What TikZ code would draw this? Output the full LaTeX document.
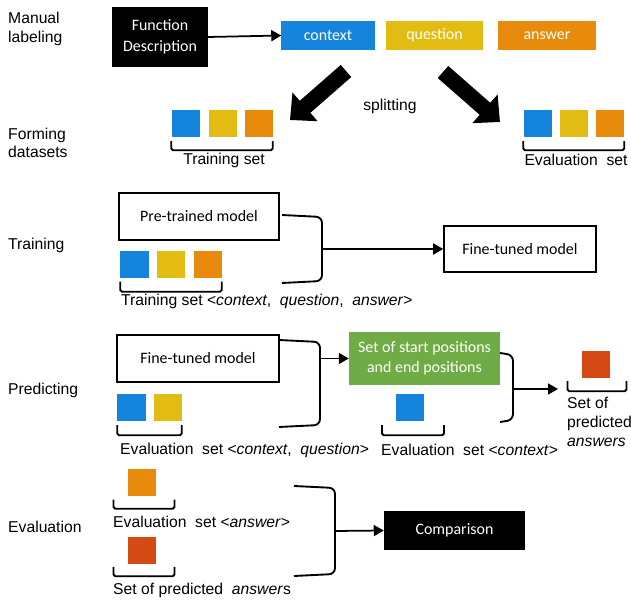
\documentclass[tikz,border=0pt]{standalone}
\usepackage{fontspec}
\setmainfont{Liberation Sans}
\newfontfamily\calfont{Carlito}
\usepackage{xcolor}
\usetikzlibrary{arrows.meta,calc}
\definecolor{QABlue}{HTML}{1584DC}
\definecolor{QAYellow}{HTML}{E2BC12}
\definecolor{QAOrange}{HTML}{E88B0C}
\definecolor{QARed}{HTML}{D54A14}
\definecolor{QAGreen}{HTML}{6FAC46}

\begin{document}
\begin{tikzpicture}[x=0.03cm,y=-0.03cm,
  rowlabel/.style={anchor=west,align=left,inner sep=0pt,font=\fontsize{13.4}{16}\selectfont},
  settext/.style={anchor=west,inner sep=0pt,font=\fontsize{13.4}{16.2}\selectfont},
  calbox/.style={align=center,inner sep=0pt,font=\calfont\fontsize{13.6}{17.5}\selectfont},
  darkbox/.style={calbox,fill=black,text=white},
  fieldbox/.style={calbox,text=white,minimum height=0.87cm},
  modelbox/.style={calbox,draw=black,line width=1.4pt},
  sq/.style={minimum width=0.84cm,minimum height=0.81cm,inner sep=0pt},
  brk/.style={line width=1.6pt,rounded corners=1.5pt},
  brace/.style={line width=1.6pt,rounded corners=5pt},
  arr/.style={line width=1.5pt,-{Triangle[length=0.3cm,width=0.33cm]}},
  bigarr/.style={line width=0.48cm,-{Triangle[length=0.6cm,width=1.11cm]}}]
\path[use as bounding box] (0,0) rectangle (631,601);

\node[rowlabel] (lblManual) at (8,29) {Manual\\labeling};
\node[rowlabel] (lblForming) at (8,143) {Forming\\datasets};
\node[rowlabel] (lblTraining) at (8,245.5) {Training};
\node[rowlabel] (lblPredicting) at (8,390) {Predicting};
\node[rowlabel] (lblEvaluation) at (8,526.5) {Evaluation};

\node[darkbox,minimum width=2.88cm,minimum height=1.80cm] (fd) at (160,37) {Function\\Description};
\node[fieldbox,fill=QABlue,minimum width=2.79cm] (ctx) at (328,35.5) {context};
\node[fieldbox,fill=QAYellow,minimum width=2.91cm] (qst) at (434.5,35.5) {question};
\node[fieldbox,fill=QAOrange,minimum width=2.94cm] (ans) at (547,35.5) {answer};
\draw[arr] (fd.east) -- (ctx.west);

\coordinate (splitL0) at (346,71);
\coordinate (splitL1) at (290,120);
\coordinate (splitR0) at (443,72);
\coordinate (splitR1) at (500,122);
\draw[bigarr] (splitL0) -- (splitL1);
\draw[bigarr] (splitR0) -- (splitR1);
\node[settext,anchor=center] (split) at (390,106) {splitting};

\node[sq,fill=QABlue] (tq1) at (185.5,123.5) {};
\node[sq,fill=QAYellow] (tq2) at (222.5,123.5) {};
\node[sq,fill=QAOrange] (tq3) at (258.5,123.5) {};
\draw[brk] ($(tq1.south west)+(0,4)$) -- ++(0,9) -| ($(tq3.south east)+(0,4)$);
\node[settext,anchor=center] (trainset) at (224,160) {Training set};

\node[sq,fill=QABlue] (eq1) at (537.5,123.5) {};
\node[sq,fill=QAYellow] (eq2) at (573.5,123.5) {};
\node[sq,fill=QAOrange] (eq3) at (610,123.5) {};
\draw[brk] ($(eq1.south west)+(0,4)$) -- ++(0,9) -| ($(eq3.south east)+(0,4)$);
\node[settext,anchor=center] (evalset) at (576,160) {Evaluation\ \ set};

\node[modelbox,minimum width=4.8cm,minimum height=1.41cm] (pre) at (199,216.5) {Pre-trained model};
\node[sq,fill=QABlue] (ts1) at (134.5,265) {};
\node[sq,fill=QAYellow] (ts2) at (170.5,265) {};
\node[sq,fill=QAOrange] (ts3) at (207.5,265) {};
\draw[brk] ($(ts1.south west)+(0,3)$) -- ++(0,10) -| ($(ts3.south east)+(0,3)$);
\node[settext] (trainfull) at (121,301) {Training set <\textit{context}, \ \textit{question}, \ \textit{answer}>};
\node[modelbox,minimum width=4.56cm,minimum height=1.38cm] (ft1) at (520,249) {Fine-tuned model};
\draw[brace] (282,215) -- (322,217) -- (322,281) -- (282,283);
\coordinate (tbm) at (322,249);
\draw[arr] (tbm) -- (ft1.west);

\node[modelbox,minimum width=4.86cm,minimum height=1.41cm] (ft2) at (198,358.5) {Fine-tuned model};
\node[sq,fill=QABlue] (ps1) at (131.5,407.5) {};
\node[sq,fill=QAYellow] (ps2) at (167.5,407.5) {};
\draw[brk] ($(ps1.south west)+(0,4)$) -- ++(0,10) -| ($(ps2.south east)+(0,4)$);
\node[settext] (evalcq) at (120,450) {Evaluation\ \ set <\textit{context}, \ \textit{question}>};
\node[calbox,fill=QAGreen,text=white,minimum width=4.53cm,minimum height=1.59cm] (se) at (424.5,358.5) {Set of start positions\\and end positions};
\draw[brace] (279,340) -- (320,342) -- (320,425) -- (279,427);
\coordinate (pbm) at (320,358.5);
\draw[arr] (pbm) -- (se.west);
\node[sq,fill=QABlue] (pc) at (410,407.5) {};
\draw[brk] ($(pc.south)+(-28,4)$) -- ++(0,10) -| ($(pc.south)+(34,4)$);
\node[settext] (evalc) at (381,450) {Evaluation\ \ set <\textit{context}>};
\draw[brace] (500,353) -- (513,355) -- (513,420) -- (500,422);
\coordinate (pam) at (513,389);
\coordinate (pend) at (558,389);
\draw[arr] (pam) -- (pend);
\node[sq,fill=QARed] (pa) at (595.5,364.5) {};
\draw[brk] ($(pa.south)+(-28,3)$) -- ++(0,10) -| ($(pa.south)+(31,3)$);
\node[settext,anchor=north west,align=left] (predans) at (567,397) {Set of\\predicted\\\textit{answers}};

\node[sq,fill=QAOrange] (va) at (141.5,483) {};
\draw[brk] ($(va.south)+(-28,3)$) -- ++(0,9) -| ($(va.south)+(33,3)$);
\node[settext] (evala) at (113,522) {Evaluation\ \ set <\textit{answer}>};
\node[sq,fill=QARed] (vp) at (141.5,550.5) {};
\draw[brk] ($(vp.south)+(-28,3)$) -- ++(0,9) -| ($(vp.south)+(33,3)$);
\node[settext] (predset) at (113,590) {Set of predicted \ \textit{answer}s};
\node[darkbox,minimum width=4.23cm,minimum height=1.17cm] (cmp) at (454.5,530.5) {Comparison};
\draw[brace] (294,486) -- (335,488) -- (335,574) -- (294,576);
\coordinate (vbm) at (335,531);
\draw[arr] (vbm) -- (cmp.west);
\end{tikzpicture}
\end{document}
